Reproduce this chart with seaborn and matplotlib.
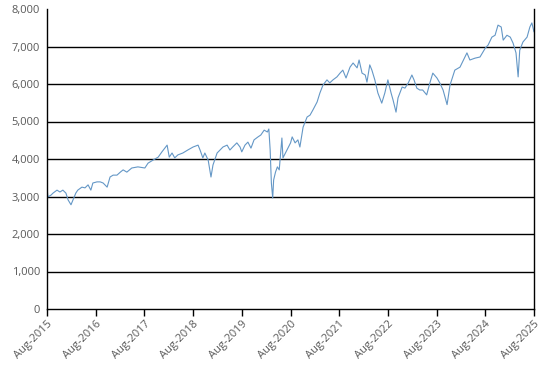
import pandas as pd
import numpy as np
import matplotlib
matplotlib.use('Agg')
import matplotlib.pyplot as plt
import matplotlib.dates as mdates
from matplotlib.ticker import FuncFormatter
import seaborn as sns

# values
dates = [
    '2015-08-01', '2015-08-08', '2015-09-01', '2015-09-15', '2015-10-15', '2015-11-06',
    '2015-11-28', '2015-12-21', '2016-01-06', '2016-01-28', '2016-02-12', '2016-03-04',
    '2016-03-19', '2016-04-19', '2016-05-12', '2016-06-04', '2016-06-25', '2016-07-10',
    '2016-08-10', '2016-09-03', '2016-09-25', '2016-10-25', '2016-11-16', '2016-12-09',
    '2017-01-07', '2017-02-01', '2017-02-22', '2017-03-22', '2017-04-28', '2017-06-13',
    '2017-08-04', '2017-08-28', '2017-10-04', '2017-11-12', '2017-12-10', '2018-01-18',
    '2018-02-03', '2018-02-24', '2018-03-16', '2018-04-09', '2018-05-16', '2018-06-22',
    '2018-08-01', '2018-09-07', '2018-09-22', '2018-10-13', '2018-10-28', '2018-11-22',
    '2018-12-13', '2018-12-28', '2019-01-28', '2019-02-19', '2019-03-13', '2019-04-13',
    '2019-05-04', '2019-05-25', '2019-06-25', '2019-07-19', '2019-08-01', '2019-08-25',
    '2019-09-16', '2019-10-09', '2019-11-01', '2019-12-01', '2019-12-22', '2020-01-16',
    '2020-02-09', '2020-02-20', '2020-03-01', '2020-03-10', '2020-03-20', '2020-03-27',
    '2020-04-10', '2020-04-24', '2020-05-08', '2020-05-28', '2020-06-05', '2020-07-05',
    '2020-08-01', '2020-08-13', '2020-09-04', '2020-09-25', '2020-10-10', '2020-11-03',
    '2020-12-03', '2020-12-25', '2021-01-16', '2021-02-16', '2021-03-09', '2021-04-01',
    '2021-05-01', '2021-05-22', '2021-06-15', '2021-07-15', '2021-08-07', '2021-08-28',
    '2021-09-21', '2021-10-21', '2021-11-13', '2021-12-13', '2021-12-28', '2022-01-19',
    '2022-02-12', '2022-02-25', '2022-03-18', '2022-04-03', '2022-04-25', '2022-05-18',
    '2022-06-16', '2022-07-09', '2022-08-01', '2022-08-25', '2022-09-09', '2022-10-01',
    '2022-10-16', '2022-11-16', '2022-12-07', '2023-01-01', '2023-01-28', '2023-02-13',
    '2023-03-06', '2023-03-28', '2023-04-19', '2023-05-19', '2023-06-12', '2023-07-04',
    '2023-08-04', '2023-08-25', '2023-09-19', '2023-10-19', '2023-11-10', '2023-12-16',
    '2024-01-24', '2024-03-16', '2024-04-07', '2024-05-16', '2024-06-22', '2024-08-01',
    '2024-08-22', '2024-09-19', '2024-10-13', '2024-11-04', '2024-11-28', '2024-12-13',
    '2025-01-10', '2025-02-04', '2025-02-25', '2025-03-19', '2025-04-04', '2025-04-16',
    '2025-05-10', '2025-06-10', '2025-07-01', '2025-07-16', '2025-08-01',
]
values = [
    3230, 2990, 3040, 3090, 3170, 3120,
    3170, 3090, 2910, 2780, 2910, 3090,
    3170, 3250, 3230, 3310, 3170, 3360,
    3390, 3390, 3360, 3250, 3520, 3570,
    3570, 3650, 3710, 3650, 3760, 3790,
    3760, 3890, 3970, 4050, 4190, 4370,
    4050, 4160, 4030, 4110, 4160, 4240,
    4320, 4370, 4240, 4030, 4160, 3970,
    3520, 3840, 4160, 4240, 4320, 4370,
    4240, 4320, 4430, 4320, 4190, 4370,
    4450, 4290, 4510, 4590, 4640, 4770,
    4720, 4800, 4240, 3360, 2960, 3440,
    3650, 3790, 3710, 4560, 4030, 4240,
    4430, 4590, 4430, 4510, 4320, 4850,
    5120, 5170, 5310, 5520, 5760, 5970,
    6110, 6030, 6110, 6190, 6290, 6370,
    6160, 6450, 6560, 6430, 6640, 6290,
    6240, 6050, 6510, 6370, 6110, 5760,
    5490, 5760, 6110, 5760, 5570, 5250,
    5630, 5920, 5890, 6030, 6240, 6110,
    5890, 5840, 5840, 5710, 6030, 6290,
    6160, 6030, 5840, 5450, 5970, 6370,
    6450, 6830, 6640, 6690, 6720, 6960,
    7040, 7250, 7300, 7570, 7520, 7170,
    7300, 7250, 7090, 6830, 6190, 6900,
    7120, 7250, 7520, 7630, 7390,
]
tick_years = list(range(2015, 2026))

df = pd.DataFrame({'date': pd.to_datetime(dates), 'value': values})

sns.set_style('white')
plt.rcParams['font.family'] = ['Open Sans', 'DejaVu Sans']

fig = plt.figure(figsize=(5.44, 3.68), dpi=100)
ax = fig.add_axes([47 / 544, 1 - 309 / 368, 487 / 544, 300 / 368])

sns.lineplot(data=df, x='date', y='value', ax=ax, color='#6497c6', linewidth=0.8)

ax.set_ylim(0, 8000)
ax.set_yticks(np.arange(0, 8001, 1000))
ax.yaxis.set_major_formatter(FuncFormatter(lambda v, p: f'{int(v):,}'))
ax.set_xlim(pd.Timestamp('2015-08-01'), pd.Timestamp('2025-08-01'))
ax.set_xticks([pd.Timestamp(f'{y}-08-01') for y in tick_years])
ax.xaxis.set_major_formatter(mdates.DateFormatter('%b-%Y'))

for g in range(1000, 8000, 1000):
    ax.axhline(g, color='black', linewidth=1, zorder=0)

ax.set_xlabel('')
ax.set_ylabel('')
for s in ['left', 'bottom', 'right']:
    ax.spines[s].set_color('black')
    ax.spines[s].set_linewidth(1)
ax.spines['top'].set_visible(False)

ax.tick_params(axis='y', length=0, pad=5, labelsize=8, labelcolor='#595959')
ax.tick_params(axis='x', length=5, width=1, color='black', direction='out',
               bottom=True, labelsize=8, labelcolor='#595959', pad=2)
plt.setp(ax.get_xticklabels(), rotation=45, ha='right', va='top', rotation_mode='anchor')

fig.savefig('out.png', dpi=100)
